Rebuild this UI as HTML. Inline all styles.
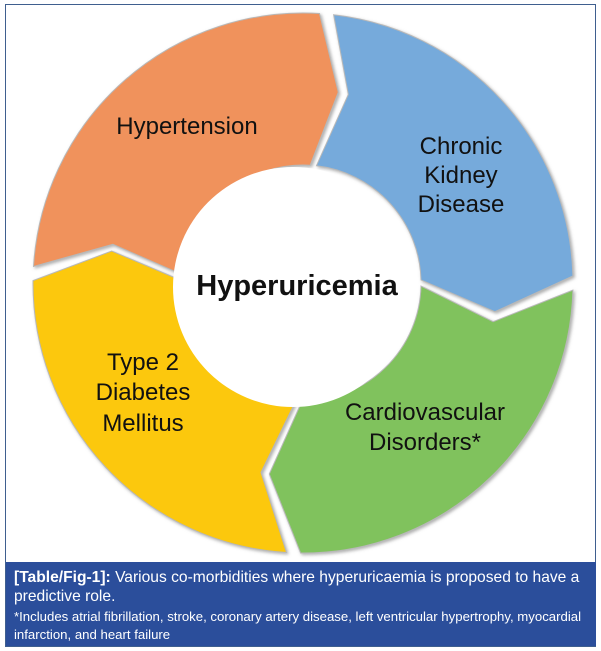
<!DOCTYPE html>
<html><head><meta charset="utf-8"><style>
html,body{margin:0;padding:0;background:#fff;}
body{width:601px;height:651px;position:relative;overflow:hidden;font-family:"Liberation Sans",Arial,sans-serif;}
.frame{position:absolute;left:5px;top:4px;width:589px;height:641px;border:1.5px solid #3f5f8f;}
.cap{position:absolute;left:6px;top:562px;width:590px;height:84px;background:#2b4e9b;color:#fff;}
.cap .l{position:absolute;left:8px;white-space:nowrap;}
</style></head><body>
<div class="frame"></div>
<svg width="601" height="651" style="position:absolute;left:0;top:0">
<defs><filter id="sh" x="-10%" y="-10%" width="120%" height="120%"><feDropShadow dx="1.5" dy="1.5" stdDeviation="1.5" flood-color="#777" flood-opacity="0.6"/></filter></defs>
<g filter="url(#sh)" stroke="#b8b8b8" stroke-width="1">
<path fill="#f0925b" d="M33.5,266.5 A270,270 0 0 1 319.5,13.5 L338.3,92.2 L310.2,165.2 A118,118 0 0 0 185.2,275.8 L112.9,244.3 Z"/>
<path fill="#76aadb" d="M333.6,14.7 A270,270 0 0 1 572.9,275.9 L494.9,311.7 L421.0,279.9 A118,118 0 0 0 316.4,165.8 L348.3,94.4 Z"/>
<path fill="#80c25d" d="M572.9,290.1 A270,270 0 0 1 300.6,553.0 L269.3,474.0 L302.0,401.0 A118,118 0 0 0 421.0,286.1 L493.1,321.7 Z"/>
<path fill="#fcc80b" d="M286.5,552.5 A270,270 0 0 1 33.0,280.6 L111.7,251.0 L185.0,282.0 A118,118 0 0 0 295.8,400.8 L261.0,472.4 Z"/>
</g>
<circle cx="293" cy="287" r="120" fill="#fff"/>
<g font-family="Liberation Sans, Arial, sans-serif" fill="#111" text-anchor="middle">
<text x="187" y="134" font-size="24">Hypertension</text>
<text x="461" y="154" font-size="24">Chronic</text>
<text x="461" y="183" font-size="24">Kidney</text>
<text x="461" y="212" font-size="24">Disease</text>
<text x="297" y="295" font-size="29" font-weight="bold">Hyperuricemia</text>
<text x="143" y="370" font-size="24">Type 2</text>
<text x="143" y="400" font-size="24">Diabetes</text>
<text x="143" y="431" font-size="24">Mellitus</text>
<text x="425" y="420" font-size="24">Cardiovascular</text>
<text x="425" y="450" font-size="24">Disorders*</text>
</g>
</svg>
<div class="cap">
<div class="l" style="top:7px;font-size:15.6px;"><b>[Table/Fig-1]:</b> Various co-morbidities where hyperuricaemia is proposed to have a</div>
<div class="l" style="top:26px;font-size:15.6px;">predictive role.</div>
<div class="l" style="top:47px;font-size:13.2px;">*Includes atrial fibrillation, stroke, coronary artery disease, left ventricular hypertrophy, myocardial</div>
<div class="l" style="top:65px;font-size:13.2px;">infarction, and heart failure</div>
</div>
</body></html>
